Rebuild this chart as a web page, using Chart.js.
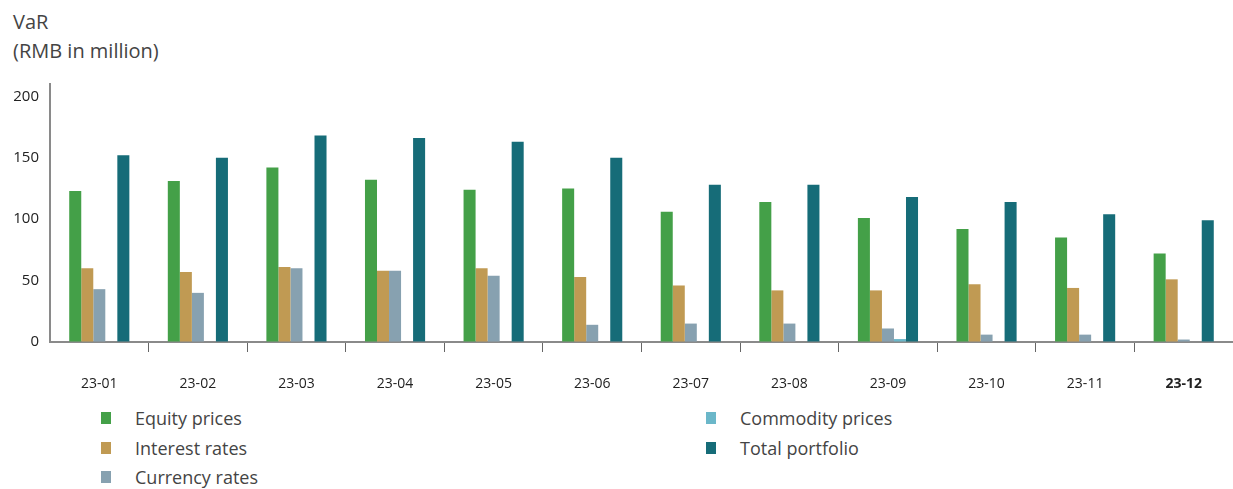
<!DOCTYPE html>
<html>
<head>
<meta charset="utf-8">
<script src="https://cdn.jsdelivr.net/npm/chart.js@4.4.0/dist/chart.umd.min.js"></script>
<style>
  body { margin:0; background:#fff; font-family:"Open Sans", sans-serif; }
  #wrap { position:relative; width:1233px; height:489px; overflow:hidden; }
  #title { position:absolute; left:13px; top:7px; font-size:20px; line-height:29px; color:#444; }
  #chartBox { position:absolute; left:0; top:0; width:1233px; height:400px; }
  .leg { position:absolute; font-size:18px; color:#444; display:flex; align-items:center; }
  .leg i { display:inline-block; width:10px; height:12px; margin-right:24px; }
</style>
</head>
<body>
<div id="wrap">
  <div id="title">VaR<br>(RMB in million)</div>
  <div id="chartBox"><canvas id="c"></canvas></div>
  <div id="legend"></div>
</div>
<script>
// data
const months = ['23-01','23-02','23-03','23-04','23-05','23-06','23-07','23-08','23-09','23-10','23-11','23-12'];
const equity    = [123, 131, 142, 132, 124, 125, 106, 114, 101, 92, 85, 72];
const interest  = [60, 57, 61, 58, 60, 53, 46, 42, 42, 47, 44, 51];
const currency  = [43, 40, 60, 58, 54, 14, 15, 15, 11, 6, 6, 2];
const commodity = [0, 0, 0, 0, 0, 0, 0, 0, 2.4, 0, 0, 0];
const total     = [152, 150, 168, 166, 163, 150, 128, 128, 118, 114, 104, 99];
const yTicks = [0, 50, 100, 150, 200];

const series = [
  {label:'Equity prices', data:equity, color:'#44a048'},
  {label:'Interest rates', data:interest, color:'#c09a53'},
  {label:'Currency rates', data:currency, color:'#87a1b0'},
  {label:'Commodity prices', data:commodity, color:'#6bb7c9'},
  {label:'Total portfolio', data:total, color:'#166c78'}
];

new Chart(document.getElementById('c'), {
  type:'bar',
  data:{
    labels:months,
    datasets:series.map(s => ({label:s.label, data:s.data, backgroundColor:s.color,
      barPercentage:1, categoryPercentage:0.61}))
  },
  options:{
    responsive:true, maintainAspectRatio:false, animation:false,
    layout:{padding:{top:84, right:0, left:0, bottom:0}},
    plugins:{legend:{display:false}, tooltip:{enabled:false}},
    scales:{
      x:{
        grid:{offset:true, drawOnChartArea:false, drawTicks:true, tickLength:10,
          color: c => (c.index === 0 || c.index === months.length) ? 'rgba(0,0,0,0)' : '#666'},
        border:{color:'#8a8a8a', width:2},
        ticks:{color:'#222', padding:24,
          font: c => ({family:'"Open Sans", sans-serif', size:14, weight: c.index === 11 ? 'bold' : 'normal'})},
        afterFit: s => { s.height = 58; }
      },
      y:{
        min:0, max:210,
        grid:{drawOnChartArea:false, drawTicks:false},
        border:{color:'#8a8a8a', width:2},
        ticks:{color:'#222', padding:11, includeBounds:false,
          font:{family:'"Open Sans", sans-serif', size:15}},
        afterBuildTicks: s => { s.ticks = yTicks.map(v => ({value:v})); },
        afterFit: s => { s.width = 50; }
      }
    }
  }
});

// legend, two columns
const legPos = [[101,419],[101,449],[101,478],[706,419],[706,449]];
const legend = document.getElementById('legend');
series.forEach((s, i) => {
  const d = document.createElement('div');
  d.className = 'leg';
  d.style.left = legPos[i][0] + 'px';
  d.style.top = (legPos[i][1] - 13) + 'px';
  d.innerHTML = `<i style="background:${s.color}"></i>${s.label}`;
  legend.appendChild(d);
});
</script>
</body>
</html>
